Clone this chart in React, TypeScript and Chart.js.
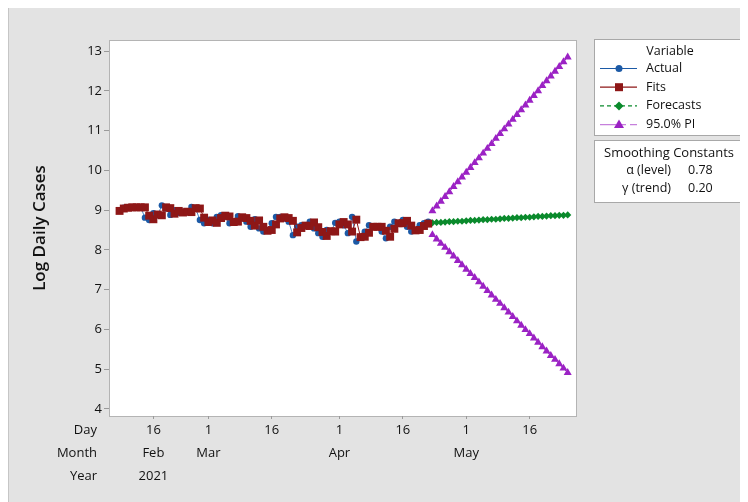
import React, { useEffect, useRef } from 'react';
import { Chart, registerables } from 'chart.js';

Chart.register(...registerables);

// Day index 0 = 8 Feb 2021
const actualStartDay = 0;
const actualValues = [
  9.0, 9.06, 9.07, 9.06, 9.07, 9.07, 8.81, 8.75, 8.92, 8.87,
  9.12, 9.04, 8.88, 9.0, 8.93, 8.96, 8.95, 9.08, 9.04, 8.75,
  8.67, 8.75, 8.67, 8.83, 8.87, 8.83, 8.67, 8.71, 8.85, 8.79,
  8.71, 8.58, 8.77, 8.54, 8.46, 8.5, 8.67, 8.83, 8.83, 8.79,
  8.71, 8.37, 8.58, 8.62, 8.6, 8.71, 8.54, 8.42, 8.33, 8.5,
  8.46, 8.68, 8.71, 8.62, 8.42, 8.83, 8.21, 8.33, 8.46, 8.62,
  8.58, 8.58, 8.46, 8.29, 8.58, 8.71, 8.67, 8.75, 8.58, 8.46,
  8.5, 8.62, 8.67, 8.71,
];
const fitValues = [
  8.98, 9.04, 9.06, 9.07, 9.07, 9.07, 9.07, 8.86, 8.77, 8.89,
  8.87, 9.07, 9.05, 8.91, 8.98, 8.94, 8.96, 8.95, 9.05, 9.04,
  8.81, 8.7, 8.74, 8.68, 8.8, 8.86, 8.84, 8.7, 8.71, 8.82,
  8.8, 8.73, 8.61, 8.74, 8.58, 8.48, 8.5, 8.64, 8.79, 8.82,
  8.8, 8.73, 8.44, 8.55, 8.61, 8.6, 8.69, 8.57, 8.45, 8.35,
  8.47, 8.46, 8.64, 8.7, 8.64, 8.46, 8.76, 8.32, 8.33, 8.43,
  8.58, 8.58, 8.58, 8.48, 8.33, 8.53, 8.67, 8.67, 8.73, 8.61,
  8.49, 8.5, 8.6, 8.66,
];
const forecastStartDay = 74;
const forecastValues = [
  8.68, 8.69, 8.69, 8.7, 8.71, 8.71, 8.72, 8.72, 8.73, 8.74,
  8.74, 8.75, 8.76, 8.76, 8.77, 8.77, 8.78, 8.79, 8.79, 8.8,
  8.81, 8.81, 8.82, 8.82, 8.83, 8.84, 8.84, 8.85, 8.86, 8.86,
  8.87, 8.87, 8.88,
];
const upperPI = [
  8.98, 9.1, 9.22, 9.34, 9.46, 9.59, 9.71, 9.83, 9.95, 10.07,
  10.19, 10.31, 10.43, 10.55, 10.67, 10.8, 10.92, 11.04, 11.16, 11.28,
  11.4, 11.52, 11.64, 11.76, 11.88, 12.0, 12.13, 12.25, 12.37, 12.49,
  12.61, 12.73, 12.85,
];
const lowerPI = [
  8.38, 8.27, 8.16, 8.06, 7.95, 7.84, 7.73, 7.62, 7.51, 7.4,
  7.3, 7.19, 7.08, 6.97, 6.86, 6.75, 6.65, 6.54, 6.43, 6.32,
  6.21, 6.1, 5.99, 5.89, 5.78, 5.67, 5.56, 5.45, 5.34, 5.24,
  5.13, 5.02, 4.91,
];

const tickDays = [8, 21, 36, 52, 67, 82, 97];
const dayLabels = ['16', '1', '16', '1', '16', '1', '16'];
const monthLabels = ['Feb', 'Mar', '', 'Apr', '', 'May', ''];
const yearLabels = ['2021', '', '', '', '', '', ''];
const rowLabels = ['Day', 'Month', 'Year'];
const yTicks = [4, 5, 6, 7, 8, 9, 10, 11, 12, 13];
const yTitle = 'Log Daily Cases';
const legendTitle = 'Variable';
const legendNames = ['Actual', 'Fits', 'Forecasts', '95.0% PI'];
const smoothTitle = 'Smoothing Constants';
const smoothNames = ['\u03b1 (level)', '\u03b3 (trend)'];
const smoothValues = ['0.78', '0.20'];

const C_ACT = '#1c5aa6';
const C_FIT = '#8e1717';
const C_FC = '#0a8a2c';
const C_PI = '#9b22c4';
const FONT = '"Open Sans", "Noto Sans", sans-serif';
const TXT = '#111111';

function marker(ctx: CanvasRenderingContext2D, kind: string, x: number, y: number, color: string) {
  ctx.save();
  ctx.fillStyle = color;
  ctx.setLineDash([]);
  ctx.beginPath();
  if (kind === 'circle') ctx.arc(x, y, 3.5, 0, Math.PI * 2);
  else if (kind === 'rect') ctx.rect(x - 4, y - 4, 8, 8);
  else if (kind === 'diamond') {
    ctx.moveTo(x, y - 4.5); ctx.lineTo(x + 4.5, y); ctx.lineTo(x, y + 4.5); ctx.lineTo(x - 4.5, y); ctx.closePath();
  } else {
    ctx.moveTo(x, y - 5); ctx.lineTo(x + 5, y + 3.5); ctx.lineTo(x - 5, y + 3.5); ctx.closePath();
  }
  ctx.fill();
  ctx.restore();
}

const decorPlugin = {
  id: 'decor',
  beforeDraw(chart: any) {
    const { ctx, width, height, chartArea: a } = chart;
    ctx.save();
    ctx.fillStyle = '#e3e3e3';
    ctx.fillRect(0, 0, width, height);
    ctx.strokeStyle = '#c6c6c6';
    ctx.lineWidth = 1;
    ctx.beginPath();
    ctx.moveTo(0.5, height);
    ctx.lineTo(0.5, 0.5);
    ctx.lineTo(width, 0.5);
    ctx.stroke();
    ctx.fillStyle = '#ffffff';
    ctx.fillRect(a.left, a.top, a.right - a.left, a.bottom - a.top);
    ctx.strokeStyle = '#b4b4b4';
    ctx.strokeRect(a.left + 0.5, a.top + 0.5, a.right - a.left - 1, a.bottom - a.top);
    ctx.restore();
  },
  afterDraw(chart: any) {
    const { ctx, chartArea: a } = chart;
    ctx.save();
    ctx.fillStyle = TXT;
    ctx.font = `600 17px ${FONT}`;
    ctx.textAlign = 'center';
    ctx.textBaseline = 'middle';
    ctx.translate(32, (a.top + a.bottom) / 2);
    ctx.rotate(-Math.PI / 2);
    ctx.fillText(yTitle, 0, 0);
    ctx.restore();

    ctx.save();
    ctx.fillStyle = TXT;
    ctx.font = `500 13px ${FONT}`;
    ctx.textAlign = 'right';
    ctx.textBaseline = 'middle';
    rowLabels.forEach((r, i) => ctx.fillText(r, 89, a.bottom + 14.5 + i * 23));

    const bx = a.right + 17;
    const bw = 149;
    ctx.fillStyle = '#ffffff';
    ctx.strokeStyle = '#a8a8a8';
    ctx.lineWidth = 1;
    ctx.fillRect(bx, 35, bw, 96);
    ctx.strokeRect(bx + 0.5, 35.5, bw, 96);
    ctx.fillRect(bx, 136, bw, 62);
    ctx.strokeRect(bx + 0.5, 136.5, bw, 62);

    ctx.fillStyle = TXT;
    ctx.font = `500 12.5px ${FONT}`;
    ctx.textAlign = 'center';
    ctx.fillText(legendTitle, bx + 76, 47);
    const colors = [C_ACT, C_FIT, C_FC, C_PI];
    const kinds = ['circle', 'rect', 'diamond', 'triangle'];
    const dashes = [[], [], [4, 3], [16, 4, 6, 4]];
    legendNames.forEach((n, i) => {
      const y = 64.5 + i * 18.7;
      ctx.save();
      ctx.strokeStyle = i === 3 ? '#c680dc' : colors[i];
      ctx.lineWidth = 1.2;
      ctx.setLineDash(dashes[i]);
      ctx.beginPath();
      ctx.moveTo(bx + 6, y);
      ctx.lineTo(bx + 43, y);
      ctx.stroke();
      ctx.restore();
      marker(ctx, kinds[i], bx + 25, y, colors[i]);
      ctx.fillStyle = TXT;
      ctx.textAlign = 'left';
      ctx.fillText(n, bx + 52, y);
    });

    ctx.font = `500 13px ${FONT}`;
    ctx.textAlign = 'center';
    ctx.fillText(smoothTitle, bx + 75, 149);
    ctx.font = `500 12.5px ${FONT}`;
    smoothNames.forEach((n, i) => {
      const y = 166 + i * 18;
      ctx.textAlign = 'right';
      ctx.fillText(n, bx + 77, y);
      ctx.textAlign = 'left';
      ctx.fillText(smoothValues[i], bx + 94, y);
    });
    ctx.restore();
  },
};

export default function App() {
  const ref = useRef<HTMLCanvasElement>(null);
  useEffect(() => {
    if (!ref.current) return;
    const actual = actualValues.map((v, i) => ({ x: actualStartDay + i, y: v }));
    const fits = fitValues.map((v, i) => ({ x: actualStartDay + i, y: v }));
    const fc = forecastValues.map((v, i) => ({ x: forecastStartDay + i, y: v }));
    const up = upperPI.map((v, i) => ({ x: forecastStartDay + i, y: v }));
    const lo = lowerPI.map((v, i) => ({ x: forecastStartDay + i, y: v }));
    const chart = new Chart(ref.current, {
      type: 'line',
      data: {
        datasets: [
          { label: 'Actual', data: actual, borderColor: '#4a86c8', backgroundColor: C_ACT, borderWidth: 1, pointStyle: 'circle', pointRadius: 3.2, pointBorderWidth: 0, order: 2 },
          { label: 'Fits', data: fits, borderColor: C_FIT, backgroundColor: C_FIT, borderWidth: 1, pointStyle: 'rect', pointRadius: 5.6, pointBorderWidth: 0, order: 1 },
          { label: 'Forecasts', data: fc, borderColor: C_FC, backgroundColor: C_FC, borderWidth: 1, borderDash: [4, 3], pointStyle: 'rectRot', pointRadius: 3.6, pointBorderWidth: 0, order: 3 },
          { label: 'Upper', data: up, borderColor: C_PI, backgroundColor: C_PI, borderWidth: 1, pointStyle: 'triangle', pointRadius: 4.6, pointBorderWidth: 0, order: 4 },
          { label: 'Lower', data: lo, borderColor: C_PI, backgroundColor: C_PI, borderWidth: 1, pointStyle: 'triangle', pointRadius: 4.6, pointBorderWidth: 0, order: 5 },
        ],
      },
      options: {
        animation: false,
        responsive: false,
        events: [],
        layout: { padding: { left: 0, right: 171, top: 36, bottom: 0 } },
        plugins: { legend: { display: false }, tooltip: { enabled: false }, title: { display: false } },
        scales: {
          x: {
            type: 'linear',
            min: -2.5,
            max: 108.2,
            afterFit: (s: any) => { s.height = 86; },
            afterBuildTicks: (s: any) => { s.ticks = tickDays.map((v) => ({ value: v })); },
            grid: { drawOnChartArea: false, drawTicks: true, tickLength: 3, color: '#9a9a9a' },
            border: { display: false },
            ticks: {
              autoSkip: false,
              maxRotation: 0,
              padding: 0,
              color: TXT,
              font: { family: FONT, size: 13, weight: '500', lineHeight: '23px' },
              callback: (v: any) => {
                const i = tickDays.indexOf(Number(v));
                return i < 0 ? '' : [dayLabels[i], monthLabels[i], yearLabels[i]];
              },
            },
          },
          y: {
            type: 'linear',
            min: 3.82,
            max: 13.28,
            afterFit: (s: any) => { s.width = 101; },
            afterBuildTicks: (s: any) => { s.ticks = yTicks.map((v) => ({ value: v })); },
            grid: { drawOnChartArea: false, drawTicks: true, tickLength: 5, color: '#9a9a9a' },
            border: { display: false },
            ticks: { padding: 2, color: TXT, font: { family: FONT, size: 13, weight: '500' }, callback: (v: any) => String(v) },
          },
        },
      },
      plugins: [decorPlugin],
    } as any);
    return () => chart.destroy();
  }, []);
  return (
    <div style={{ position: 'relative', width: 740, height: 498, marginTop: -4 }}>
      <canvas ref={ref} width={740} height={498} style={{ display: 'block' }} />
    </div>
  );
}
